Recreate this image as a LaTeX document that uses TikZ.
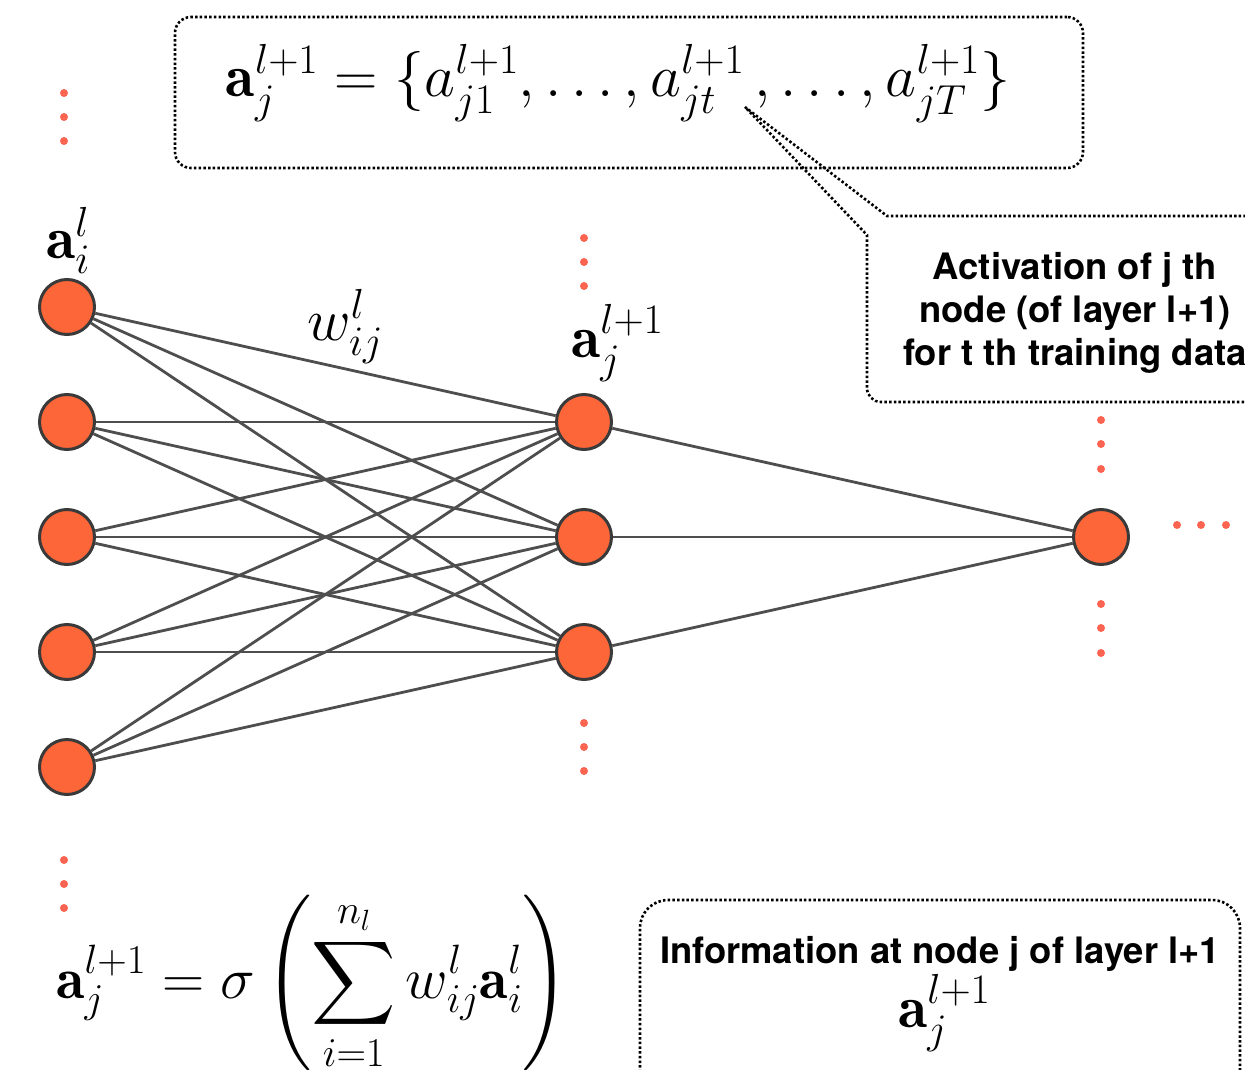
\RequirePackage{fix-cm}
\documentclass[tikz,border=0pt]{standalone}
\usepackage{amsmath}
\usepackage{fontspec}
% freely scalable large-operator font
\DeclareFontShape{OMX}{cmex}{m}{n}{<-> cmex10}{}
\newfontfamily\heros{TeX Gyre Heros}
\usetikzlibrary{backgrounds}
\definecolor{nodefill}{RGB}{252,102,56}
\definecolor{nodeedge}{RGB}{58,58,58}
\definecolor{linkgray}{RGB}{78,78,78}
\definecolor{dotred}{RGB}{250,100,80}
\begin{document}
\begin{tikzpicture}[x=1pt,y=-1pt,
  neuron/.style={circle, draw=nodeedge, fill=nodefill, line width=3pt, minimum size=55pt, inner sep=0pt},
  link/.style={draw=linkgray, line width=2.8pt},
  dotline/.style={line width=2.6pt, dash pattern=on 2.5pt off 2.2pt},
  mathlbl/.style={inner sep=0pt, font=\fontsize{60}{66}\selectfont},
  boxtext/.style={font=\fontsize{36.4}{43}\selectfont\heros\bfseries, align=center, inner sep=0pt}]
\useasboundingbox (0,0) rectangle (1245,1070);

% layers
\foreach \i/\y in {1/307,2/422,3/537,4/652,5/767}
  \node[neuron] (L\i) at (67,\y) {};
\foreach \j/\y in {1/422,2/537,3/652}
  \node[neuron] (M\j) at (584,\y) {};
\node[neuron] (R) at (1101,537) {};

% weights
\begin{scope}[on background layer]
  \foreach \i in {1,...,5}
    \foreach \j in {1,2,3}
      \draw[link] (L\i) -- (M\j);
  \foreach \j in {1,2,3}
    \draw[link] (M\j) -- (R);
\end{scope}

% ellipsis dots
\foreach \x/\y in {64/93,64/117,64/141, 64/860,64/884,64/908,
                   584/238,584/262,584/286, 584/723,584/747,584/771,
                   1101/420,1101/444,1101/469, 1101/604,1101/628,1101/653,
                   1177/525,1201/525,1226/525}
  \fill[dotred] (\x,\y) circle (4pt);

% labels
\node[mathlbl, anchor=base west] (ali) at (46,258) {$\mathbf{a}_i^l$};
\node[mathlbl, anchor=base west] (alj) at (571,357) {$\mathbf{a}_j^{l+1}$};
\node[mathlbl, anchor=base west] (wij) at (307,340) {$w_{ij}^l$};

% activation set
\node[draw, dotline, rounded corners=16pt, minimum width=908pt, minimum height=151pt] (topbox) at (629,92.5) {};
\node[mathlbl, anchor=base] (act) at (618,97)
  {$\mathbf{a}_j^{l+1} = \{a_{j1}^{l+1},\ldots,a_{jt}^{l+1}\,,\ldots,a_{jT}^{l+1}\}$};

% callout
\coordinate (tip) at (745,107);
\draw[dotline] (1260,216) -- (887,216) -- (tip) -- (867,235) -- (867,388)
  to[out=-90,in=180] (881,402) -- (1260,402);
\node[boxtext] (cap) at (1075,313) {Activation of j th\\node (of layer l+1)\\for t th training data};

% information box
\draw[dotline, rounded corners=28pt] (640,1110) -- (640,900) -- (1240,900) -- (1240,1110);
\node[boxtext, anchor=base] (info) at (940,963) {Information at node j of layer l+1};
\node[mathlbl, anchor=base west] (infoa) at (898,1027) {$\mathbf{a}_j^{l+1}$};

% forward rule
\node[mathlbl, anchor=base west, font=\fontsize{58.5}{64}\selectfont] (rule) at (56,998)
  {$\displaystyle \mathbf{a}_j^{l+1} = \sigma\left(\sum_{i=1}^{n_l} w_{ij}^l\mathbf{a}_i^l\right)$};
\end{tikzpicture}
\end{document}
